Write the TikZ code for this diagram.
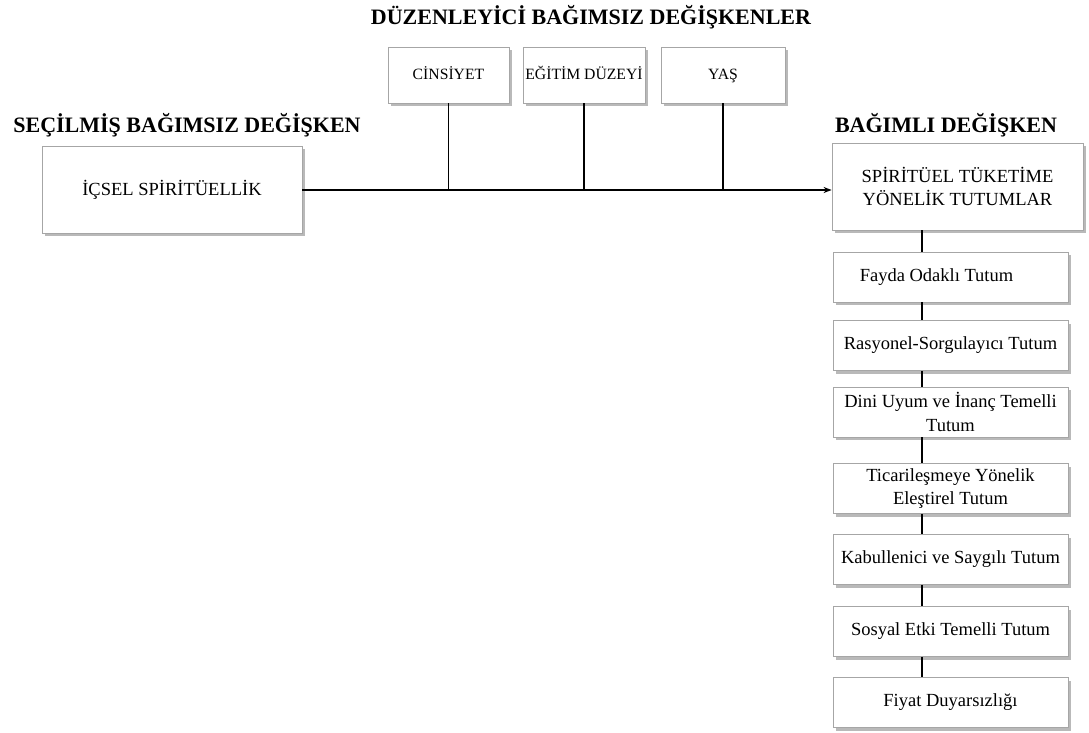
\documentclass[tikz,border=0pt]{standalone}
\usepackage{fontspec}
\setmainfont{Liberation Serif}
\usetikzlibrary{shadows,arrows.meta}
\begin{document}
\begin{tikzpicture}[x=1pt,y=-1pt,
  box/.style={draw=gray!70,line width=0.8pt,fill=white,
    drop shadow={shadow xshift=3pt,shadow yshift=-3pt,fill=gray!55,opacity=1},
    inner sep=2pt,align=center,font=\fontsize{18.5}{23.5}\selectfont},
  subbox/.style={box,minimum width=235pt,minimum height=50pt},
  topbox/.style={box,minimum height=56pt,font=\fontsize{15.7}{19}\selectfont,text height=11pt,text depth=1pt},
  head/.style={font=\fontsize{22}{26}\selectfont\bfseries},
  conn/.style={draw=black,line width=1.6pt}]
\useasboundingbox (0,0) rectangle (1089,733);
\node[head] (t1) at (591,17) {DÜZENLEYİCİ BAĞIMSIZ DEĞİŞKENLER};
\node[head] (t2) at (187,125) {SEÇİLMİŞ BAĞIMSIZ DEĞİŞKEN};
\node[head] (t3) at (946,125) {BAĞIMLI DEĞİŞKEN};
\node[box,minimum width=260pt,minimum height=87pt] (left) at (172,189.5) {İÇSEL SPİRİTÜELLİK};
\node[topbox,minimum width=121pt] (cin) at (448.5,75) {CİNSİYET};
\node[topbox,minimum width=122pt] (egt) at (584,75) {EĞİTİM DÜZEYİ};
\node[topbox,minimum width=124pt] (yas) at (723,75) {YAŞ};
\node[box,minimum width=251pt,minimum height=87pt] (main) at (957.5,186.5) {SPİRİTÜEL TÜKETİME\\YÖNELİK TUTUMLAR};
\node[subbox] (fay) at (950.5,277) {Fayda Odaklı Tutum\hspace{28pt}};
\node[subbox] (ras) at (950.5,345.5) {Rasyonel-Sorgulayıcı Tutum};
\node[subbox] (din) at (950.5,412) {Dini Uyum ve İnanç Temelli\\Tutum};
\node[subbox] (tic) at (950.5,488.5) {Ticarileşmeye Yönelik\\Eleştirel Tutum};
\node[subbox] (kab) at (950.5,559.5) {Kabullenici ve Saygılı Tutum};
\node[subbox] (sos) at (950.5,631.5) {Sosyal Etki Temelli Tutum};
\node[subbox] (fiy) at (950.5,702.5) {Fiyat Duyarsızlığı};
\draw[conn,-{Stealth[length=8pt,width=6pt]}] (left.east |- 0,190) -- (main.west |- 0,190);
\draw[conn] (cin.south) -- (cin.south |- 0,190);
\draw[conn] (egt.south) -- (egt.south |- 0,190);
\draw[conn] (yas.south) -- (yas.south |- 0,190);
\draw[conn] (main.south -| 922,0) -- (fay.north -| 922,0);
\draw[conn] (fay.south -| 922,0) -- (ras.north -| 922,0);
\draw[conn] (ras.south -| 922,0) -- (din.north -| 922,0);
\draw[conn] (din.south -| 922,0) -- (tic.north -| 922,0);
\draw[conn] (tic.south -| 922,0) -- (kab.north -| 922,0);
\draw[conn] (kab.south -| 922,0) -- (sos.north -| 922,0);
\draw[conn] (sos.south -| 922,0) -- (fiy.north -| 922,0);
\end{tikzpicture}
\end{document}
